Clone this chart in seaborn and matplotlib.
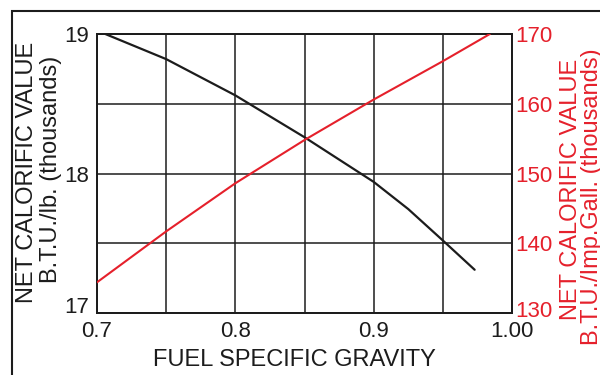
import matplotlib
matplotlib.use("Agg")
import matplotlib.pyplot as plt
import seaborn as sns
import pandas as pd
from matplotlib.patches import Rectangle
from matplotlib.transforms import ScaledTranslation

# values
sg_lb = [0.706, 0.75, 0.8, 0.85, 0.9, 0.925, 0.95, 0.973]
btu_lb = [19.0, 18.82, 18.56, 18.26, 17.94, 17.745, 17.52, 17.31]   # thousands, left axis

sg_gal = [0.7, 0.75, 0.8, 0.85, 0.9, 0.95, 0.984]
btu_gal = [134.4, 141.7, 148.6, 154.8, 160.6, 166.1, 170.0]        # thousands, right axis

x_ticks = [0.7, 0.8, 0.9, 1.0]
x_labels = ["0.7", "0.8", "0.9", "1.00"]
x_minor = [0.75, 0.85, 0.95]
left_ticks = [17, 18, 19]
left_minor = [17.5, 18.5]
right_ticks = [130, 140, 150, 160, 170]

RED = "#e5202b"
DARK = "#1c1c1c"
FS_LABEL = 17
FS_TICK = 16

sns.set_theme(style="white")
plt.rcParams["font.family"] = ["Liberation Sans", "DejaVu Sans"]

df_lb = pd.DataFrame({"sg": sg_lb, "btu": btu_lb})
df_gal = pd.DataFrame({"sg": sg_gal, "btu": btu_gal})

fig = plt.figure(figsize=(6, 3.75), dpi=100)
ax = fig.add_axes([97 / 600, 62 / 375, 415 / 600, 279 / 375])
ax2 = ax.twinx()

sns.lineplot(data=df_lb, x="sg", y="btu", ax=ax, color=DARK, linewidth=1.6, zorder=3)
sns.lineplot(data=df_gal, x="sg", y="btu", ax=ax2, color=RED, linewidth=1.5, zorder=3)

ax.set_xlim(0.7, 1.0)
ax.set_ylim(17, 19)
ax2.set_ylim(130, 170)

ax.set_xticks(x_ticks, x_labels)
ax.set_xticks(x_minor, minor=True)
ax.set_yticks(left_ticks, [str(t) for t in left_ticks])
ax.set_yticks(left_minor, minor=True)
ax2.set_yticks(right_ticks, [str(t) for t in right_ticks])

ax.grid(True, which="both", color=DARK, linewidth=1.1)
ax2.grid(False)
ax.set_axisbelow(True)

ax.tick_params(axis="both", which="both", length=0, labelsize=FS_TICK, colors=DARK)
ax.tick_params(axis="x", pad=6)
ax.tick_params(axis="y", pad=6)
ax2.tick_params(axis="y", length=0, labelsize=FS_TICK, colors=RED, pad=2)

# the lowest labels sit a little above the corner, clear of the x labels
ax.get_yticklabels()[0].set_verticalalignment("baseline")
low_right = ax2.get_yticklabels()[0]
low_right.set_transform(low_right.get_transform() +
                        ScaledTranslation(0, 3 / 72, fig.dpi_scale_trans))

ax.set_xlabel("")
ax.set_ylabel("")
ax2.set_ylabel("")

for a in (ax, ax2):
    for s in a.spines.values():
        s.set_color(DARK)
        s.set_linewidth(1.3)

# axis titles
fig.text(27 / 600, 1 - 172 / 375, "NET CALORIFIC VALUE", rotation=90,
         ha="center", va="center", fontsize=FS_LABEL, color=DARK)
fig.text(51 / 600, 1 - 169 / 375, "B.T.U./lb. (thousands)", rotation=90,
         ha="center", va="center", fontsize=FS_LABEL, color=DARK)
fig.text(571 / 600, 1 - 320 / 375, "NET CALORIFIC VALUE", rotation=90,
         ha="center", va="bottom", fontsize=FS_LABEL, color=RED)
fig.text(592 / 600, 1 - 345 / 375, "B.T.U./Imp.Gall. (thousands)", rotation=90,
         ha="center", va="bottom", fontsize=FS_LABEL, color=RED)
fig.text(294 / 600, 1 - 360 / 375, "FUEL SPECIFIC GRAVITY",
         ha="center", va="center", fontsize=FS_LABEL, color=DARK)

# outer frame of the printed figure (only the top and left edges are visible)
fig.patches.append(Rectangle((12 / 600, -0.1), 1.2, 1.1 - 11 / 375,
                             transform=fig.transFigure, fill=False,
                             edgecolor=DARK, linewidth=1.5))

fig.savefig("out.png", dpi=100)
